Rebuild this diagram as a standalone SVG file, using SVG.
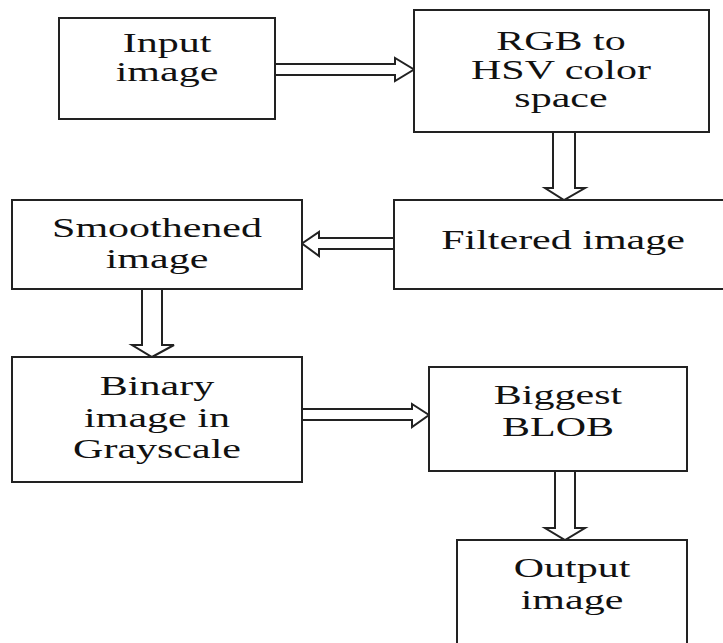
<svg xmlns="http://www.w3.org/2000/svg" width="723" height="643" viewBox="0 0 723 643">
<style>
.box{fill:#fff;stroke:#222;stroke-width:2}
.arr{fill:#fff;stroke:#222;stroke-width:2;stroke-linejoin:miter}
text{font-family:"Liberation Serif","Times New Roman",serif;font-size:28px;fill:#111;text-anchor:middle}
</style>
<rect width="723" height="643" fill="#fff"/>
<g id="connectors">
<path class="arr" d="M275,64 H395 V58 L414,69.5 L395,81 V75 H275"/>
<path class="arr" d="M553,132 V188 H545 L564,200 L585,188 H575 V132"/>
<path class="arr" d="M394,238 H319 V232 L302,243.5 L319,256 V249 H394"/>
<path class="arr" d="M142,289 V345 H132 L152,357 L174,345 H162 V289"/>
<path class="arr" d="M302,409 H412 V404 L429,415 L412,427 V420 H302"/>
<path class="arr" d="M555,471 V528 H545 L565,540 L585,528 H575 V471"/>
</g>
<g id="input">
<rect class="box" x="59" y="18" width="216" height="101"/>
<text transform="translate(167 52) scale(1.5 1)">Input</text>
<text transform="translate(167 81) scale(1.5 1)">image</text>
</g>
<g id="rgb2hsv">
<rect class="box" x="414" y="10" width="295" height="122"/>
<text transform="translate(561 50) scale(1.5 1)">RGB to</text>
<text transform="translate(561 79) scale(1.5 1)">HSV color</text>
<text transform="translate(561 107) scale(1.5 1)">space</text>
</g>
<g id="filtered">
<rect class="box" x="394" y="200" width="340" height="89"/>
<text transform="translate(563 249) scale(1.5 1)">Filtered image</text>
</g>
<g id="smoothened">
<rect class="box" x="12" y="200" width="290" height="89"/>
<text transform="translate(157 237) scale(1.5 1)">Smoothened</text>
<text transform="translate(157 268) scale(1.5 1)">image</text>
</g>
<g id="binary">
<rect class="box" x="12" y="357" width="290" height="125"/>
<text transform="translate(157 395) scale(1.5 1)">Binary</text>
<text transform="translate(157 427) scale(1.5 1)">image in</text>
<text transform="translate(157 458) scale(1.5 1)">Grayscale</text>
</g>
<g id="blob">
<rect class="box" x="429" y="367" width="258" height="104"/>
<text transform="translate(558 404) scale(1.5 1)">Biggest</text>
<text transform="translate(558 436) scale(1.5 1)">BLOB</text>
</g>
<g id="output">
<rect class="box" x="457" y="540" width="230" height="115"/>
<text transform="translate(572 577) scale(1.5 1)">Output</text>
<text transform="translate(572 609) scale(1.5 1)">image</text>
</g>
</svg>
